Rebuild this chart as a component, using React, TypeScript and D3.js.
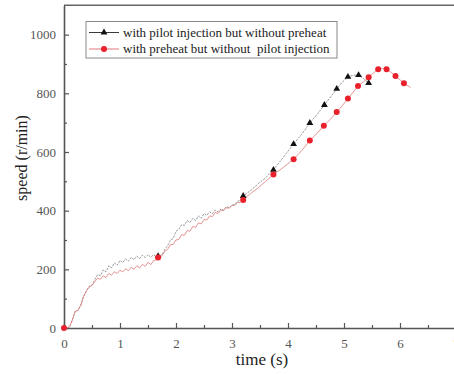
import React, { useRef, useEffect } from 'react';
import * as d3 from 'd3';

// pilot injection, no preheat (black, triangles)
const pilotTime = [
  0, 0.05, 0.1, 0.15, 0.2, 0.25, 0.3, 0.35, 0.4, 0.45, 0.5, 0.55, 0.6, 0.65, 0.7, 0.75, 0.8, 0.85, 0.9, 0.95,
  1.0, 1.05, 1.1, 1.15, 1.2, 1.25, 1.3, 1.35, 1.4, 1.45, 1.5, 1.55, 1.6, 1.65, 1.68,
  1.75, 1.8, 1.85, 1.9, 1.95, 2.0, 2.05, 2.1, 2.15, 2.2, 2.25, 2.3, 2.35, 2.4, 2.45, 2.5, 2.55, 2.6, 2.65,
  2.7, 2.75, 2.8, 2.85, 2.9, 2.95, 3.0, 3.05, 3.1, 3.15, 3.2,
  3.33, 3.47, 3.6, 3.74, 3.92, 4.1, 4.25, 4.39, 4.52, 4.65, 4.76, 4.87, 4.97, 5.07, 5.17, 5.26, 5.35, 5.44,
];
const pilotSpeed = [
  0, 0, 4, 28, 57, 60, 78, 108, 126, 142, 146, 165, 182, 178, 198, 192, 212, 205, 222, 214, 230, 223, 236, 228,
  241, 233, 245, 237, 248, 240, 250, 241, 250, 242, 245,
  250, 268, 280, 300, 305, 330, 336, 352, 350, 366, 360, 374, 366, 382, 374, 390, 384, 396, 390,
  402, 396, 406, 402, 414, 410, 420, 420, 432, 436, 450,
  468, 492, 512, 539, 583, 627, 662, 699, 728, 760, 788, 815, 838, 856, 862, 862, 850, 835,
];
const pilotMarkT = [1.68, 3.2, 3.74, 4.1, 4.39, 4.65, 4.87, 5.07, 5.26, 5.44];
const pilotMarkV = [245, 450, 539, 627, 699, 760, 815, 856, 862, 835];

// preheat, no pilot injection (red, circles)
const preheatTime = [
  0, 0.05, 0.1, 0.15, 0.2, 0.25, 0.3, 0.35, 0.4, 0.45, 0.5, 0.55, 0.6, 0.65, 0.7, 0.75, 0.8, 0.85, 0.9, 0.95,
  1.0, 1.05, 1.1, 1.15, 1.2, 1.25, 1.3, 1.35, 1.4, 1.45, 1.5, 1.55, 1.6, 1.65, 1.68,
  1.75, 1.8, 1.85, 1.9, 1.95, 2.0, 2.05, 2.1, 2.15, 2.2, 2.25, 2.3, 2.35, 2.4, 2.45, 2.5, 2.55, 2.6, 2.65,
  2.7, 2.75, 2.8, 2.85, 2.9, 2.95, 3.0, 3.05, 3.1, 3.15, 3.2,
  3.33, 3.47, 3.6, 3.74, 3.92, 4.1, 4.25, 4.39, 4.52, 4.64, 4.76, 4.87, 4.97, 5.07, 5.16, 5.25, 5.35, 5.44,
  5.53, 5.61, 5.69, 5.76, 5.84, 5.92, 6.0, 6.07, 6.19,
];
const preheatSpeed = [
  0, 0, 4, 28, 57, 60, 78, 108, 126, 140, 145, 158, 170, 166, 178, 172, 186, 180, 192, 186, 197, 191, 202, 195,
  207, 200, 212, 205, 217, 210, 224, 216, 230, 232, 240,
  246, 262, 268, 284, 285, 300, 302, 318, 316, 332, 330, 346, 343, 358, 355, 370, 368, 382, 380,
  394, 390, 402, 400, 410, 408, 418, 418, 428, 428, 438,
  458, 478, 500, 523, 548, 575, 606, 639, 664, 689, 712, 736, 758, 782, 803, 825, 840, 855,
  870, 882, 885, 882, 872, 859, 846, 834, 820,
];
const preheatMarkT = [0, 1.68, 3.2, 3.74, 4.1, 4.39, 4.64, 4.87, 5.07, 5.25, 5.44, 5.61, 5.76, 5.92, 6.07];
const preheatMarkV = [0, 240, 436, 523, 575, 639, 689, 736, 782, 825, 855, 882, 882, 859, 834];

const xTicks = [0, 1, 2, 3, 4, 5, 6, 7];
const yTicks = [0, 200, 400, 600, 800, 1000];
const legendLabels = [
  'with pilot injection but without preheat',
  'with preheat but without  pilot injection',
];

const App = () => {
  const svgRef = useRef(null);

  useEffect(() => {
    d3.select(svgRef.current).selectAll('*').remove();
    const svg = d3.select(svgRef.current);
    const width = 454;
    const height = 374;
    const left = 64, right = 456, top = 5.3, bottom = 328;
    const font = '"Liberation Serif", "Times New Roman", serif';

    svg.attr('width', width).attr('height', height).attr('font-family', font);

    const x = d3.scaleLinear().domain([0, 7]).range([left, right]);
    const y = d3.scaleLinear().domain([0, 1100]).range([bottom, top]);

    // frame top
    svg.append('line')
      .attr('x1', left).attr('x2', right).attr('y1', top).attr('y2', top)
      .attr('stroke', '#666').attr('stroke-width', 1.5);

    // minor ticks
    svg.append('g')
      .attr('transform', `translate(0, ${bottom})`)
      .call(d3.axisBottom(x).tickValues(d3.range(0.5, 7, 1)).tickSizeInner(-3).tickSizeOuter(0).tickFormat(() => ''))
      .call(g => g.select('.domain').remove())
      .selectAll('line').attr('stroke', '#555').attr('stroke-width', 1.2);
    svg.append('g')
      .attr('transform', `translate(${left}, 0)`)
      .call(d3.axisLeft(y).tickValues(d3.range(100, 1100, 200)).tickSizeInner(-3).tickSizeOuter(0).tickFormat(() => ''))
      .call(g => g.select('.domain').remove())
      .selectAll('line').attr('stroke', '#555').attr('stroke-width', 1.2);

    // major axes
    const gx = svg.append('g')
      .attr('transform', `translate(0, ${bottom})`)
      .call(d3.axisBottom(x).tickValues(xTicks).tickSizeInner(-5).tickSizeOuter(0).tickPadding(11).tickFormat(d3.format('d')));
    const gy = svg.append('g')
      .attr('transform', `translate(${left}, 0)`)
      .call(d3.axisLeft(y).tickValues(yTicks).tickSizeInner(-5).tickSizeOuter(0).tickPadding(8).tickFormat(d3.format('d')));
    [gx, gy].forEach(g => {
      g.attr('font-family', font).attr('font-size', 13);
      g.select('.domain').attr('stroke', '#555').attr('stroke-width', 1.6);
      g.selectAll('line').attr('stroke', '#555').attr('stroke-width', 1.2);
      g.selectAll('text').attr('font-family', font).attr('font-size', 13).attr('fill', '#555');
    });

    // lines
    const line = d3.line().x(d => x(d[0])).y(d => y(d[1]));
    const pilotData = pilotTime.map((t, i) => [t, pilotSpeed[i]]);
    const preheatData = preheatTime.map((t, i) => [t, preheatSpeed[i]]);

    svg.append('path')
      .attr('d', line(pilotData))
      .attr('fill', 'none').attr('stroke', '#444').attr('stroke-width', 0.7)
      .attr('stroke-dasharray', '2.2 1.2').attr('opacity', 0.8);
    svg.append('path')
      .attr('d', line(preheatData))
      .attr('fill', 'none').attr('stroke', '#e07a7a').attr('stroke-width', 0.8);

    // markers
    const tri = d3.symbol().type(d3.symbolTriangle).size(20);
    svg.append('g').selectAll('path')
      .data(pilotMarkT)
      .enter()
      .append('path')
      .attr('d', tri)
      .attr('transform', (d, i) => `translate(${x(d)}, ${y(pilotMarkV[i])})`)
      .attr('fill', '#111');
    svg.append('g').selectAll('circle')
      .data(preheatMarkT)
      .enter()
      .append('circle')
      .attr('cx', d => x(d))
      .attr('cy', (d, i) => y(preheatMarkV[i]))
      .attr('r', 3)
      .attr('fill', '#e8212b');

    // legend
    const lg = svg.append('g');
    lg.append('rect')
      .attr('x', 86).attr('y', 21.5).attr('width', 251).attr('height', 36.5)
      .attr('fill', 'white').attr('stroke', '#888').attr('stroke-width', 1);
    const legendColors = ['#222', '#e06a6a'];
    legendLabels.forEach((label, i) => {
      const ly = 32.5 + i * 16.5;
      lg.append('line')
        .attr('x1', 89).attr('x2', 119).attr('y1', ly).attr('y2', ly)
        .attr('stroke', legendColors[i]).attr('stroke-width', 0.9);
      if (i === 0) {
        lg.append('path').attr('d', tri).attr('transform', `translate(104, ${ly})`).attr('fill', '#111');
      } else {
        lg.append('circle').attr('cx', 104).attr('cy', ly).attr('r', 3).attr('fill', '#e8212b');
      }
      lg.append('text')
        .attr('x', 123).attr('y', ly + 4)
        .attr('font-family', font).attr('font-size', 13).attr('fill', '#222')
        .style('white-space', 'pre')
        .text(label);
    });

    // axis titles
    svg.append('text')
      .attr('x', 262).attr('y', 365)
      .attr('text-anchor', 'middle')
      .attr('font-family', font).attr('font-size', 17).attr('fill', '#222')
      .text('time (s)');
    svg.append('text')
      .attr('transform', `translate(27, 158) rotate(-90)`)
      .attr('text-anchor', 'middle')
      .attr('font-family', font).attr('font-size', 16).attr('fill', '#222')
      .text('speed (r/min)');
  }, []);

  return <svg ref={svgRef} style={{ position: 'absolute', left: 0, top: 0 }}></svg>;
};

export default App;
